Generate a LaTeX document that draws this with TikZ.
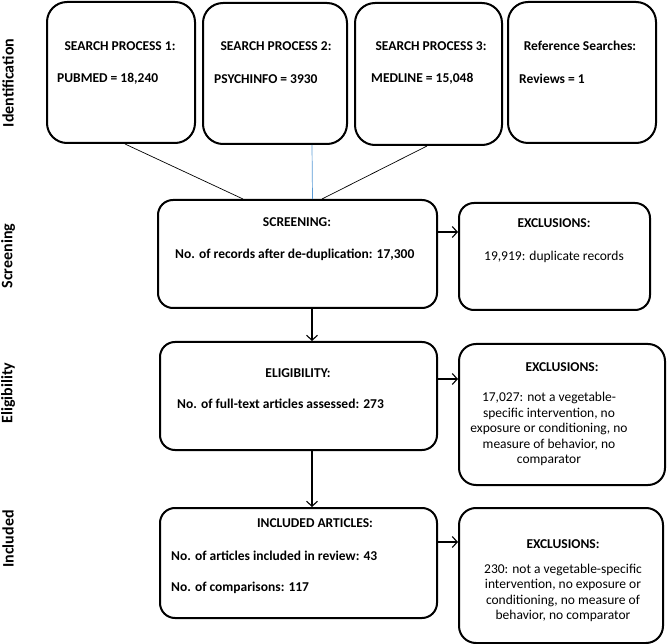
\documentclass[tikz,border=0pt]{standalone}
\usepackage{fontspec}
\setmainfont{Carlito}
\usetikzlibrary{positioning, arrows.meta}

\definecolor{linkblue}{RGB}{91,155,213}

\begin{document}
\begin{tikzpicture}[x=1pt, y=-1pt,
        box/.style={draw, line width=2pt, rounded corners=15pt, inner sep=0pt},
        head/.style={font=\fontsize{13.5}{15.5}\selectfont\bfseries, inner sep=0pt},
        body/.style={font=\fontsize{13.5}{15.5}\selectfont\bfseries, anchor=west, inner sep=0pt},
        plain/.style={font=\fontsize{13.5}{15.5}\selectfont, align=center, inner sep=0pt},
        side/.style={font=\fontsize{16}{18}\selectfont\bfseries, rotate=90, inner sep=0pt},
        arr/.style={line width=1.1pt, -{Straight Barb[length=5pt,width=11pt]}}]
        \useasboundingbox (0,0) rectangle (667,644);

        % Boxes
        \node (sp1) [box, rounded corners=20pt, minimum width=148pt, minimum height=141pt] at (121,72.5) {};
        \node (sp2) [box, rounded corners=20pt, minimum width=144pt, minimum height=141pt] at (275,73.5) {};
        \node (sp3) [box, rounded corners=20pt, minimum width=147pt, minimum height=142pt] at (428.5,74) {};
        \node (sp4) [box, rounded corners=20pt, minimum width=148pt, minimum height=141pt] at (582,72.5) {};

        \node (scr) [box, minimum width=279pt, minimum height=108pt] at (297.5,254) {};
        \node (ex1) [box, minimum width=191pt, minimum height=107pt] at (554.5,256.5) {};

        \node (eli) [box, minimum width=277pt, minimum height=108pt] at (298.5,396) {};
        \node (ex2) [box, rounded corners=17pt, minimum width=206pt, minimum height=141pt] at (562,414.5) {};

        \node (inc) [box, minimum width=277pt, minimum height=110pt] at (298.5,563) {};
        \node (ex3) [box, rounded corners=17pt, minimum width=204pt, minimum height=135pt] at (561,575.5) {};

        % Texts
        \node (sp1h) [head] at (120,46) {SEARCH PROCESS 1:};
        \node (sp1b) [body] at (57,79) {PUBMED = 18,240};
        \node (sp2h) [head] at (276,46) {SEARCH PROCESS 2:};
        \node (sp2b) [body] at (214,79) {PSYCHINFO = 3930};
        \node (sp3h) [head] at (431,46) {SEARCH PROCESS 3:};
        \node (sp3b) [body] at (371,79) {MEDLINE = 15,048};
        \node (sp4h) [head] at (580,46) {Reference Searches:};
        \node (sp4b) [body] at (519,79) {Reviews = 1};

        \node (scrh) [head] at (297,222) {SCREENING:};
        \node (scrb) [body] at (175,255) {No. of records after de-duplication: 17,300};
        \node (ex1h) [head] at (554,223) {EXCLUSIONS:};
        \node (ex1b) [plain] at (554,257) {19,919: duplicate records};

        \node (elih) [head] at (298,373) {ELIGIBILITY:};
        \node (elib) [body] at (177,404) {No. of full-text articles assessed: 273};
        \node (ex2h) [head] at (562,367) {EXCLUSIONS:};
        \node (ex2b) [plain] at (549,429) {17,027: not a vegetable-\\specific intervention, no\\exposure or conditioning, no\\measure of behavior, no\\comparator};

        \node (inch) [head] at (315,523) {INCLUDED ARTICLES:};
        \node (incb) [body] at (171,556) {No. of articles included in review: 43};
        \node (incc) [body] at (171,588) {No. of comparisons: 117};
        \node (ex3h) [head] at (563,544) {EXCLUSIONS:};
        \node (ex3b) [plain] at (563,593) {230: not a vegetable-specific\\intervention, no exposure or\\conditioning, no measure of\\behavior, no comparator};

        % Stage labels
        \node (lid) [side] at (8,83) {Identification};
        \node (lsc) [side] at (8,256) {Screening};
        \node (lel) [side] at (8,393) {Eligibility};
        \node (lin) [side] at (8,539) {Included};

        % Connectors
        \draw[line width=0.7pt] ([xshift=4pt]sp1.south) -- ([xshift=-54.5pt]scr.north);
        \draw[line width=0.7pt, linkblue] ([xshift=37pt]sp2.south) -- ([xshift=15pt]scr.north);
        \draw[line width=0.7pt] ([xshift=-1.5pt]sp3.south) -- ([xshift=24.5pt]scr.north);

        % Arrows
        \draw[arr] ([yshift=22pt]scr.east) -- ([yshift=22pt]scr.east -| ex1.west);
        \draw[arr] ([yshift=17pt]eli.east) -- ([yshift=17pt]eli.east -| ex2.west);
        \draw[arr] ([yshift=21pt]inc.east) -- ([yshift=21pt]inc.east -| ex3.west);
        \draw[arr] ([xshift=14.5pt]scr.south) -- ([xshift=14.5pt]scr.south |- eli.north);
        \draw[arr] ([xshift=13.5pt]eli.south) -- ([xshift=13.5pt]eli.south |- inc.north);

    \end{tikzpicture}
\end{document}
